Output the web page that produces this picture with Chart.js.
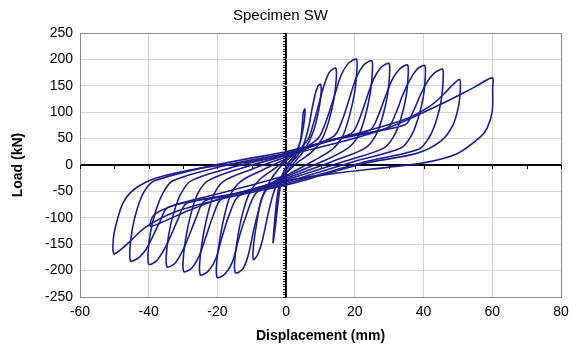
<!DOCTYPE html>
<html>
<head>
<meta charset="utf-8">
<script src="https://cdn.jsdelivr.net/npm/chart.js@4.4.1/dist/chart.umd.min.js"></script>
<style>
  body { margin: 0; background: #fff; }
  #chart { display: block; }
</style>
</head>
<body>
<canvas id="chart" width="576" height="345"></canvas>
<script>
// hysteresis loops, [displacement mm, load kN]
const cycle1 = [[0,0],[2,15],[4,42],[4.6,70],[5,100],[5.5,106],[5.2,80],[4.2,45],[2.5,15],[1,0],[0,-10],[-1.5,-35],[-2.5,-80],[-3.3,-125],[-3.8,-147],[-3.4,-110],[-2.6,-60],[-1.5,-25],[0,-3]];
const cycle2 = [[0,-3],[3,15],[5,38],[6.5,70],[7.5,105],[8.5,135],[9.3,150],[10,153],[10.2,138],[9.5,105],[8,65],[5.5,30],[2,2],[0,-15],[-2.5,-35],[-4,-60],[-5.5,-100],[-7,-145],[-8.3,-170],[-9.5,-179],[-9.6,-160],[-8.7,-115],[-7.2,-65],[-4.5,-28],[-1.5,-2],[0,8]];
const cycle3 = [[0,8],[4,30],[6.5,50],[8,80],[9.5,115],[11,150],[12.5,175],[13.7,182],[14.5,183],[14.6,165],[14,128],[12.5,85],[10.5,50],[7.5,25],[3,3],[0,-15],[-4,-35],[-6.5,-55],[-8,-85],[-9.5,-125],[-11,-170],[-12.5,-196],[-13.8,-203],[-14.8,-204],[-15,-185],[-14.3,-145],[-12.8,-95],[-10.8,-55],[-7.8,-28],[-3,-5],[0,10]];
const cycle4 = [[0,10],[5,30],[9.5,52],[12,90],[14,130],[16,170],[18,192],[19.5,199],[20.5,200],[20.6,180],[20,140],[18.5,95],[16.5,55],[13.5,30],[8,8],[0,-20],[-5,-37],[-9,-55],[-11.6,-95],[-13.6,-135],[-15.6,-183],[-17.6,-205],[-19.1,-212],[-20.1,-213],[-20.3,-193],[-19.6,-153],[-18.1,-100],[-16.1,-55],[-13,-30],[-7,-10],[0,12]];
const cycle5 = [[0,12],[7,35],[14,55],[16.5,88],[18.5,128],[20.5,167],[22.5,189],[24,196],[25,197],[25.1,177],[24.5,137],[23,92],[21,55],[18,32],[11,8],[0,-22],[-7,-42],[-14,-60],[-16.5,-93],[-18.5,-133],[-20.5,-178],[-22.5,-200],[-24,-207],[-25,-208],[-25.2,-188],[-24.5,-148],[-23,-98],[-21,-55],[-18,-30],[-10,-8],[0,15]];
const cycle6 = [[0,15],[9,40],[19,60],[21.5,90],[23.5,128],[25.5,163],[27.5,184],[29,191],[30,192],[30.1,172],[29.5,132],[28,90],[26,55],[23,32],[14,8],[0,-25],[-9,-45],[-18.8,-64],[-21.3,-97],[-23.3,-135],[-25.3,-172],[-27.3,-194],[-28.8,-201],[-29.8,-202],[-30,-182],[-29.3,-142],[-27.8,-95],[-25.8,-55],[-22.8,-30],[-13,-6],[0,18]];
const cycle7 = [[0,18],[12,45],[24.4,66],[26.9,95],[28.9,130],[30.9,162],[32.9,181],[34.4,188],[35.4,189],[35.5,169],[34.9,129],[33.4,88],[31.4,55],[28.4,32],[17,7],[0,-28],[-12,-50],[-23.7,-68],[-26.2,-100],[-28.2,-133],[-30.2,-163],[-32.2,-185],[-33.7,-192],[-34.7,-193],[-34.9,-173],[-34.2,-133],[-32.7,-90],[-30.7,-55],[-27.7,-30],[-16,-5],[0,20]];
const cycle8 = [[0,20],[14,48],[29.4,70],[31.9,98],[33.9,132],[35.9,160],[37.9,180],[39.4,187],[40.4,188],[40.5,168],[39.9,128],[38.4,88],[36.4,55],[33.4,32],[20,7],[0,-32],[-14,-54],[-29,-73],[-31.5,-103],[-33.5,-133],[-35.5,-160],[-37.5,-180],[-39,-187],[-40,-188],[-40.2,-168],[-39.5,-128],[-38,-88],[-36,-55],[-33,-30],[-19,-3],[0,22]];
const cycle9 = [[0,22],[16,52],[34.6,76],[37.1,103],[39.1,133],[41.1,158],[43.1,174],[44.6,180],[45.6,181],[45.7,161],[45.1,121],[43.6,82],[41.6,52],[38.6,30],[23,6],[0,-35],[-16,-57],[-34.3,-80],[-36.8,-108],[-38.8,-135],[-40.8,-160],[-42.8,-175],[-44.3,-181],[-45.3,-182],[-45.5,-162],[-44.8,-122],[-43.3,-82],[-41.3,-50],[-38.3,-30],[-22,-2],[0,25]];
const cycle10 = [[0,25],[18,55],[34,85],[42,112],[46,135],[48.5,152],[50.5,162],[50.7,145],[50.2,112],[48.5,75],[45,45],[38,22],[22,2],[0,-38],[-16,-60],[-32,-88],[-41,-118],[-45.5,-145],[-48.5,-162],[-50.2,-168],[-50.3,-140],[-49.6,-115],[-47.5,-72],[-44,-45],[-38,-25],[-26,-7],[-12,5],[0,18]];
const cycle11 = [[0,18],[15,42],[30,71],[45,115],[55,148],[60,165],[60.1,145],[60,102],[58.5,70],[56.3,52],[49.6,21],[40,4],[30,-4],[15,-15],[0,-30],[-15,-55],[-28,-85],[-36,-108],[-39.5,-116],[-38.5,-95],[-32,-75],[-20,-55],[-10,-38],[0,-20]];

const cycles = [cycle1, cycle2, cycle3, cycle4, cycle5, cycle6, cycle7, cycle8, cycle9, cycle10, cycle11];

const xTicks = [-60, -40, -20, 0, 20, 40, 60, 80];
const yTicks = [-250, -200, -150, -100, -50, 0, 50, 100, 150, 200, 250];

const lineColor = '#1f1f8c';
const font = "'Liberation Sans', Arial, sans-serif";

// small ladder ticks on the zero lines
const zeroTicks = {
    id: 'zeroTicks',
    beforeDatasetsDraw(chart) {
        const ctx = chart.ctx;
        const xs = chart.scales.x;
        const ys = chart.scales.y;
        const x0 = xs.getPixelForValue(0);
        const y0 = ys.getPixelForValue(0);
        ctx.save();
        ctx.strokeStyle = '#000';
        ctx.lineWidth = 1;
        ctx.beginPath();
        for (let v = -250; v <= 250; v += 5) {
            const py = Math.round(ys.getPixelForValue(v)) + 0.5;
            ctx.moveTo(x0 - 3, py);
            ctx.lineTo(x0, py);
        }
        for (let v = -60; v <= 80; v += 10) {
            const px = Math.round(xs.getPixelForValue(v)) + 0.5;
            ctx.moveTo(px, y0);
            ctx.lineTo(px, y0 + 4);
        }
        ctx.stroke();
        ctx.restore();
    }
};

function gridColor(c, min, max) {
    const v = c.tick.value;
    if (v === 0) return '#000';
    if (v === min || v === max) return '#8a8a8a';
    return '#d4d4d4';
}

const ctx = document.getElementById('chart').getContext('2d');
new Chart(ctx, {
    type: 'scatter',
    data: {
        datasets: cycles.map(c => ({
            data: c.map(p => ({ x: p[0], y: p[1] })),
            showLine: true,
            borderColor: lineColor,
            borderWidth: 1.6,
            pointRadius: 0,
            tension: 0.3
        }))
    },
    options: {
        responsive: false,
        animation: false,
        devicePixelRatio: 1,
        layout: { padding: { left: 0, right: 15, top: 0, bottom: 0 } },
        plugins: {
            legend: { display: false },
            tooltip: { enabled: false },
            title: {
                display: true,
                text: 'Specimen SW',
                color: '#000',
                font: { family: font, size: 15, weight: 'normal' },
                padding: { top: 7, bottom: 8 }
            }
        },
        scales: {
            x: {
                type: 'linear',
                min: -60,
                max: 80,
                afterBuildTicks: s => { s.ticks = xTicks.map(v => ({ value: v })); },
                afterFit: s => { s.height = 48; },
                grid: {
                    drawTicks: false,
                    color: c => gridColor(c, -60, 80),
                    lineWidth: c => c.tick.value === 0 ? 2 : 1
                },
                border: { display: true, color: '#8a8a8a' },
                ticks: { color: '#000', padding: 7, font: { family: font, size: 14 } },
                title: {
                    display: true,
                    text: 'Displacement (mm)',
                    color: '#000',
                    font: { family: font, size: 14, weight: 'bold' },
                    padding: { top: 2, bottom: 0 }
                }
            },
            y: {
                type: 'linear',
                min: -250,
                max: 250,
                afterBuildTicks: s => { s.ticks = yTicks.map(v => ({ value: v })); },
                afterFit: s => { s.width = 80; },
                grid: {
                    drawTicks: false,
                    color: c => gridColor(c, -250, 250),
                    lineWidth: c => c.tick.value === 0 ? 2 : 1
                },
                border: { display: true, color: '#8a8a8a' },
                ticks: { color: '#000', padding: 7, font: { family: font, size: 14 } },
                title: {
                    display: true,
                    text: 'Load (kN)',
                    color: '#000',
                    font: { family: font, size: 14, weight: 'bold' },
                    padding: { top: 10, bottom: 0 }
                }
            }
        }
    },
    plugins: [zeroTicks]
});
</script>
</body>
</html>
